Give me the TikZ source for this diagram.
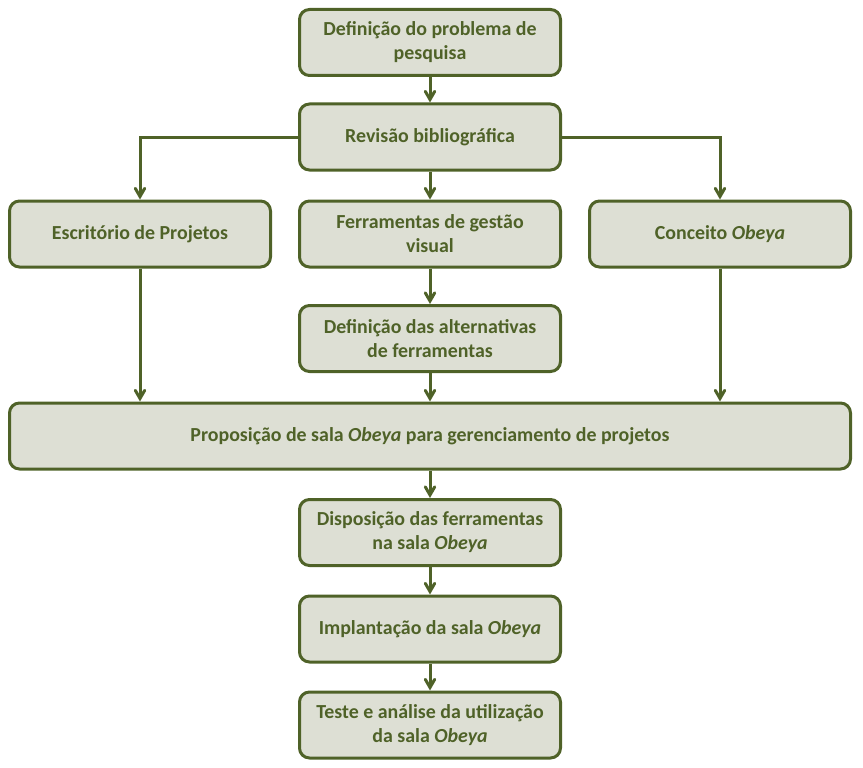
\documentclass[tikz,border=0pt]{standalone}
\usepackage{fontspec}
\setmainfont{Carlito}
\usetikzlibrary{arrows}

\definecolor{verdeescuro}{HTML}{4F6228}
\definecolor{cinzaverde}{HTML}{DDDFD4}

\tikzset{
	etapa/.style={draw=verdeescuro,fill=cinzaverde,line width=3pt,rounded corners=10pt,
		minimum width=261pt,minimum height=66pt,inner sep=0pt,align=center,
		text=verdeescuro,font=\fontsize{19.9pt}{24pt}\selectfont\bfseries},
	seta/.style={draw=verdeescuro,line width=3pt,-angle 60}
}

\begin{document}
\begin{tikzpicture}[x=1pt,y=-1pt]
		\useasboundingbox (0,0) rectangle (863,768);
		%etapas centrais
		\node[etapa] (definicao) at (430,42.5) {Definição do problema de\\pesquisa};
		\node[etapa] (revisao) at (430,137) {Revisão bibliográfica};
		\node[etapa] (ferramentas) at (430,234) {Ferramentas de gestão\\visual};
		\node[etapa] (alternativas) at (430,338.5) {Definição das alternativas\\de ferramentas};
		%etapas laterais
		\node[etapa] (escritorio) at (140,234) {Escritório de Projetos};
		\node[etapa] (conceito) at (720,234) {Conceito \textit{Obeya}};
		%proposicao
		\node[etapa,minimum width=841pt] (proposicao) at (430,436) {Proposição de sala \textit{Obeya} para gerenciamento de projetos};
		%etapas finais
		\node[etapa] (disposicao) at (430,532.5) {Disposição das ferramentas\\na sala \textit{Obeya}};
		\node[etapa] (implantacao) at (430,629) {Implantação da sala \textit{Obeya}};
		\node[etapa] (teste) at (430,725) {Teste e análise da utilização\\da sala \textit{Obeya}};
		%setas
		\draw[seta] (definicao) -- (revisao);
		\draw[seta] (revisao) -- (ferramentas);
		\draw[seta] (revisao.west) -| (escritorio.north);
		\draw[seta] (revisao.east) -| (conceito.north);
		\draw[seta] (ferramentas) -- (alternativas);
		\draw[seta] (alternativas) -- (proposicao);
		\draw[seta] (escritorio.south) -- (escritorio.south |- proposicao.north);
		\draw[seta] (conceito.south) -- (conceito.south |- proposicao.north);
		\draw[seta] (proposicao.south -| disposicao.north) -- (disposicao);
		\draw[seta] (disposicao) -- (implantacao);
		\draw[seta] (implantacao) -- (teste);
\end{tikzpicture}
\end{document}
